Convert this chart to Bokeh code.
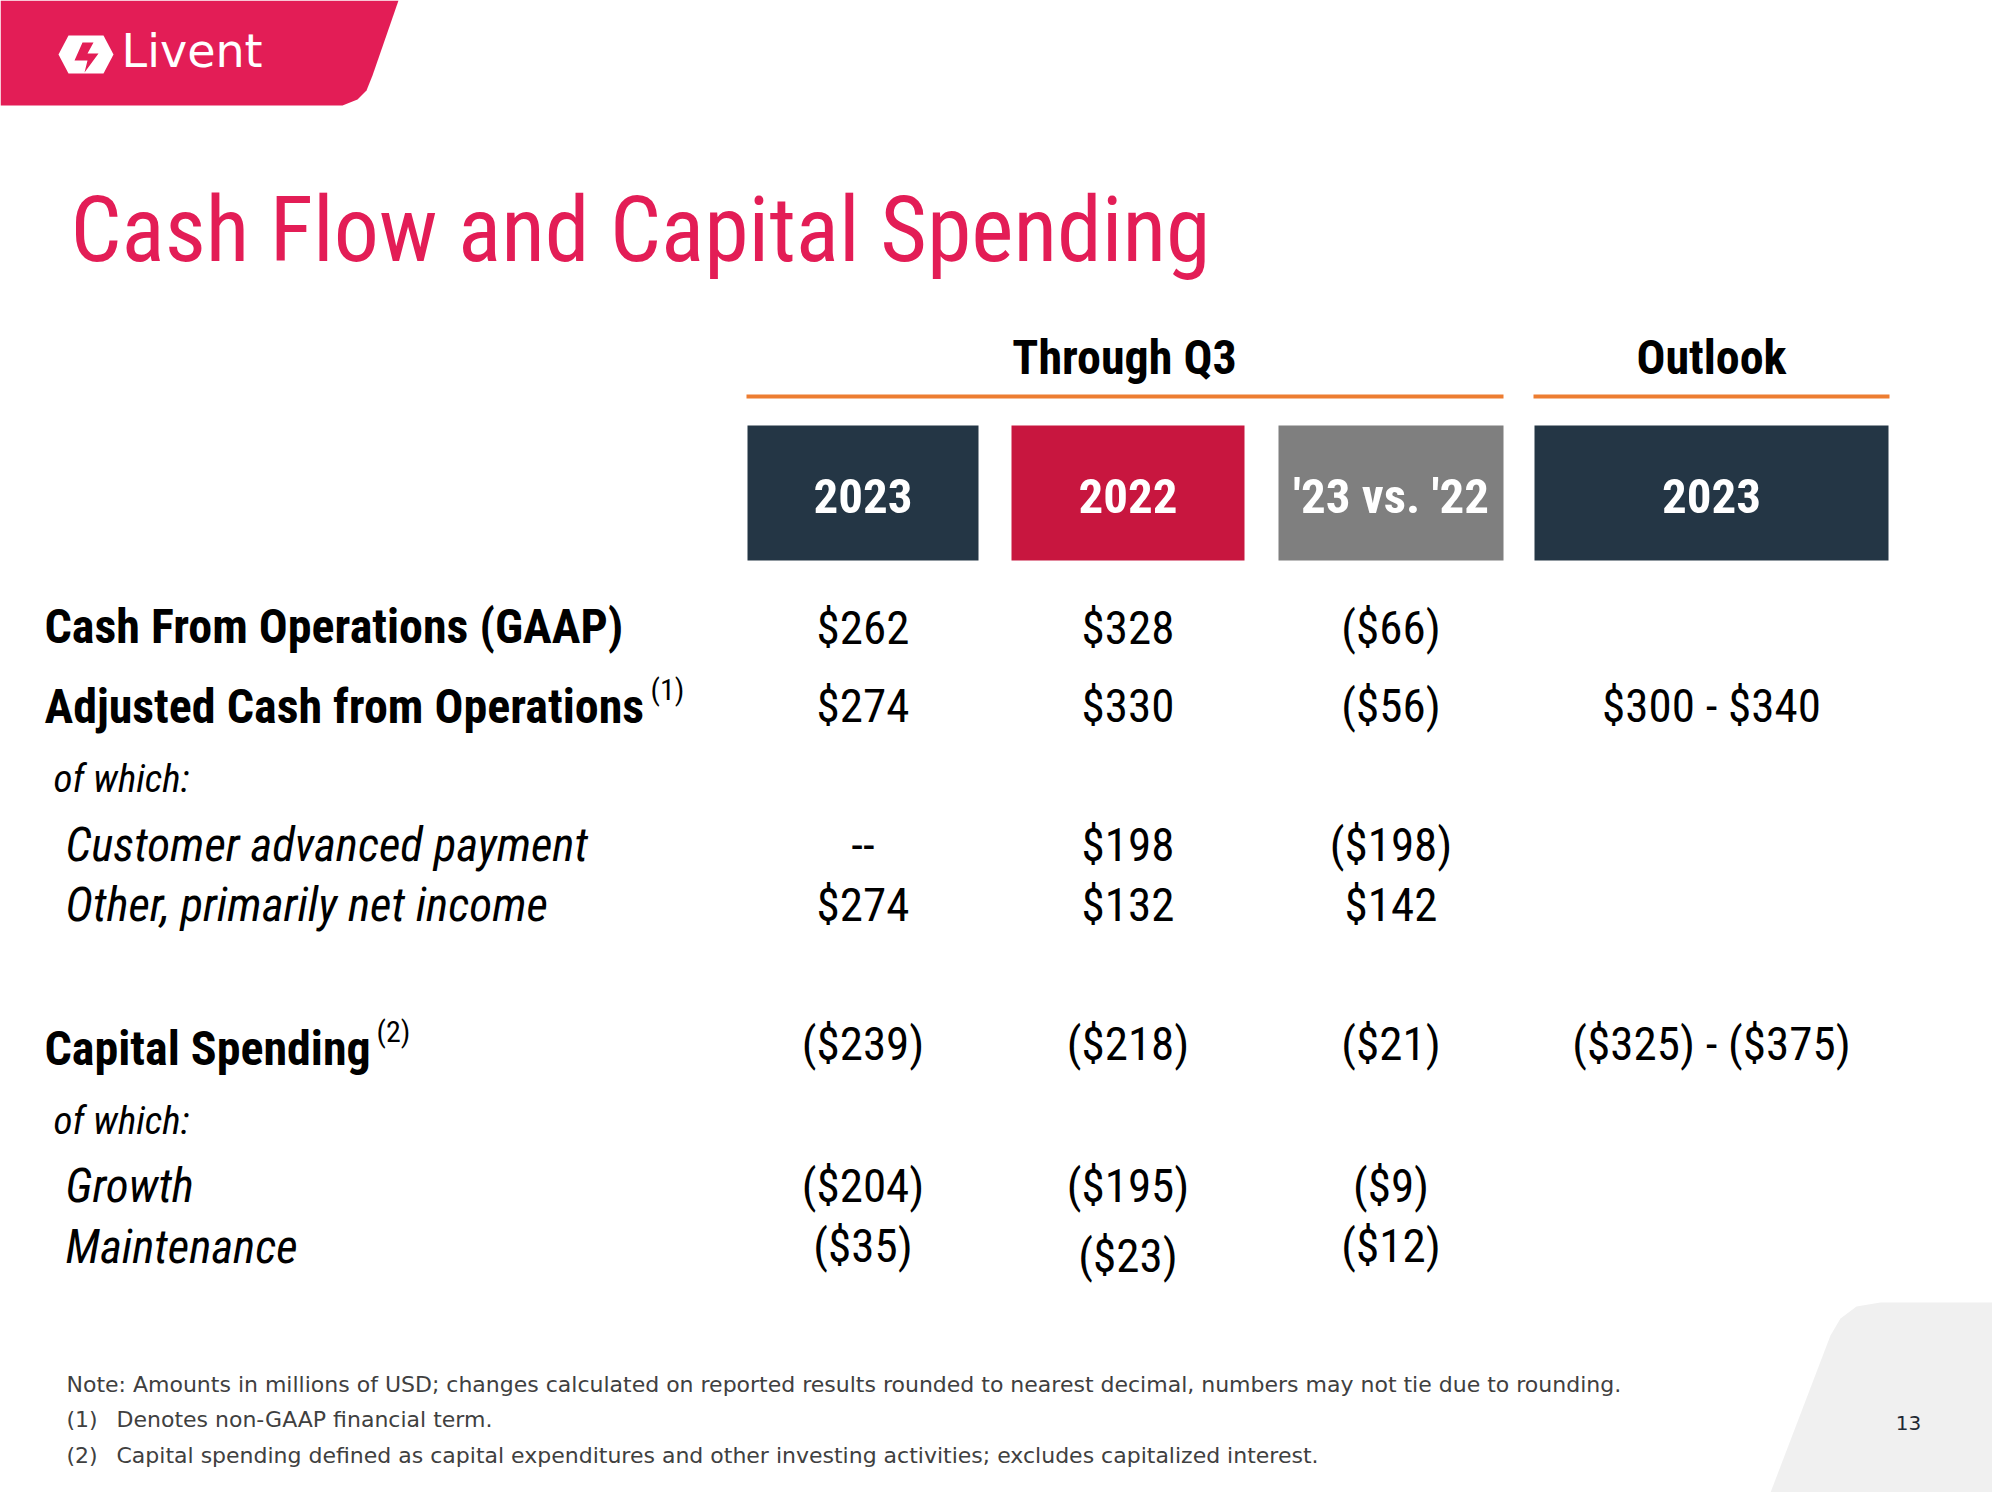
from bokeh.plotting import figure
from bokeh.models import Range1d, ColumnDataSource
from bokeh.core.properties import value
from bokeh.embed import file_html
from bokeh.resources import INLINE

# ---------------- data ----------------
title = "Cash Flow and Capital Spending"
group_labels = ["Through Q3", "Outlook"]
col_headers = ["2023", "2022", "'23 vs. '22", "2023"]
row_labels = ["Cash From Operations (GAAP)", "Adjusted Cash from Operations", "of which:",
              "Customer advanced payment", "Other, primarily net income",
              "Capital Spending", "of which:", "Growth", "Maintenance"]
row_styles = ["bold", "bold", "italic", "italic", "italic", "bold", "italic", "italic", "italic"]
row_superscripts = ["", "(1)", "", "", "", "(2)", "", "", ""]
q3_2023 = ["$262", "$274", "", "--", "$274", "($239)", "", "($204)", "($35)"]
q3_2022 = ["$328", "$330", "", "$198", "$132", "($218)", "", "($195)", "($23)"]
q3_change = ["($66)", "($56)", "", "($198)", "$142", "($21)", "", "($9)", "($12)"]
outlook_2023 = ["", "$300 - $340", "", "", "", "($325) - ($375)", "", "", ""]
footnotes = ["Note: Amounts in millions of USD; changes calculated on reported results rounded to nearest decimal, numbers may not tie due to rounding.",
             "Denotes non-GAAP financial term.",
             "Capital spending defined as capital expenditures and other investing activities; excludes capitalized interest."]
footnote_marks = ["", "(1)", "(2)"]
page_number = "13"

# ---------------- layout / style ----------------
NARROW = value("Roboto Condensed")
FOOT = value("DejaVu Sans")
RED = "#E31D56"
NAVY = "#243645"
CRIMSON = "#C8163F"
GRAY = "#7F7F7F"
ORANGE = "#ED7D31"
K = 0.37  # baseline compensation (fraction of font size)


def bl(y, size):
    return y - K * size


p = figure(width=1992, height=1492, output_backend="svg", toolbar_location=None,
           x_range=Range1d(0, 1992), y_range=Range1d(1492, 0),
           x_axis_type=None, y_axis_type=None, min_border=0)
p.outline_line_color = None
p.grid.visible = False
p.background_fill_color = "white"

# logo banner
p.patch([0, 398, 372, 366, 357, 342, 0], [0, 0, 75, 90, 99, 105, 105],
        fill_color=RED, line_color=None)
p.patch([58, 68, 103, 113, 103, 68], [54, 35, 35, 54, 73, 73], fill_color="white", line_color=None)
p.patch([82, 93, 87, 98, 84, 87, 74], [42, 42, 53, 53, 72, 60, 60], fill_color=RED, line_color=None)
p.text(x=[121], y=[bl(68, 46)], text=["Livent"], text_font=value("DejaVu Sans"), text_font_size="46px",
       text_color="white", text_baseline="alphabetic")

# bottom-right decoration
p.patch([1767, 1830, 1840, 1856, 1880, 2000, 2000], [1500, 1335, 1318, 1306, 1302, 1302, 1500],
        fill_color="#F0F0F0", line_color=None)

# title
p.text(x=[70], y=[bl(263, 90)], text=[title], text_font=NARROW, text_font_size="90px",
       text_color=RED, text_baseline="alphabetic")

# group headers
grp_x = [1124, 1711]
p.text(x=grp_x, y=[bl(375, 48)] * 2, text=group_labels, text_font=NARROW, text_font_size="48px",
       text_font_style="bold", text_color="black", text_align="center", text_baseline="alphabetic")
p.segment(x0=[746, 1533], x1=[1503, 1889], y0=[396, 396], y1=[396, 396],
          line_color=ORANGE, line_width=4)

# column header boxes
box_l = [747, 1011, 1278, 1534]
box_r = [978, 1244, 1503, 1888]
box_c = [NAVY, CRIMSON, GRAY, NAVY]
p.quad(left=box_l, right=box_r, top=[425] * 4, bottom=[560] * 4, fill_color=box_c, line_color=None)
col_x = [(a + b) / 2 for a, b in zip(box_l, box_r)]
p.text(x=col_x, y=[bl(514, 49)] * 4, text=col_headers, text_font=NARROW, text_font_size="49px",
       text_font_style="bold", text_color="white", text_align="center", text_baseline="alphabetic")

# rows
label_y = [644, 724, 793, 861, 921, 1066, 1135, 1202, 1263]
value_y = [644, 722, 793, 861, 921, 1060, 1135, 1202, 1262]
label_x = [44, 44, 53, 65, 65, 44, 53, 65, 65]
label_size = [48, 48, 39, 47, 47, 48, 39, 47, 47]
for lx, ly, lt, ls, fs in zip(label_x, label_y, row_labels, row_styles, label_size):
    p.text(x=[lx], y=[bl(ly, fs)], text=[lt], text_font=NARROW, text_font_size=f"{fs}px",
           text_font_style=ls, text_color="black", text_baseline="alphabetic")

sup_pos = {1: (650, 700), 5: (376, 1042)}
for i, s in enumerate(row_superscripts):
    if s:
        sx, sy = sup_pos[i]
        p.text(x=[sx], y=[bl(sy, 30)], text=[s], text_font=NARROW, text_font_size="30px",
               text_color="black", text_baseline="alphabetic")

VS = 47
val_y_adj = {"($23)": 10}
for cx, col in zip(col_x, [q3_2023, q3_2022, q3_change, outlook_2023]):
    xs, ys, ts = [], [], []
    for yy, v in zip(value_y, col):
        if v:
            xs.append(cx)
            ys.append(bl(yy + val_y_adj.get(v, 0), VS))
            ts.append(v)
    src = ColumnDataSource(dict(x=xs, y=ys, t=ts))
    p.text(x="x", y="y", text="t", source=src, text_font=NARROW, text_font_size=f"{VS}px",
           text_color="black", text_align="center", text_baseline="alphabetic")

# footnotes
fn_y = [1392, 1427, 1463]
for fy, mark, note in zip(fn_y, footnote_marks, footnotes):
    if mark:
        p.text(x=[66], y=[bl(fy, 22)], text=[mark], text_font=FOOT, text_font_size="22px",
               text_color="#404040", text_baseline="alphabetic")
        p.text(x=[116], y=[bl(fy, 22)], text=[note], text_font=FOOT, text_font_size="22px",
               text_color="#404040", text_baseline="alphabetic")
    else:
        p.text(x=[66], y=[bl(fy, 22)], text=[note], text_font=FOOT, text_font_size="22px",
               text_color="#404040", text_baseline="alphabetic")

p.text(x=[1908], y=[bl(1430, 21)], text=[page_number], text_font=FOOT, text_font_size="20px",
       text_color="#1F2933", text_align="center", text_baseline="alphabetic")

open("out.html", "w").write(file_html(p, INLINE))
